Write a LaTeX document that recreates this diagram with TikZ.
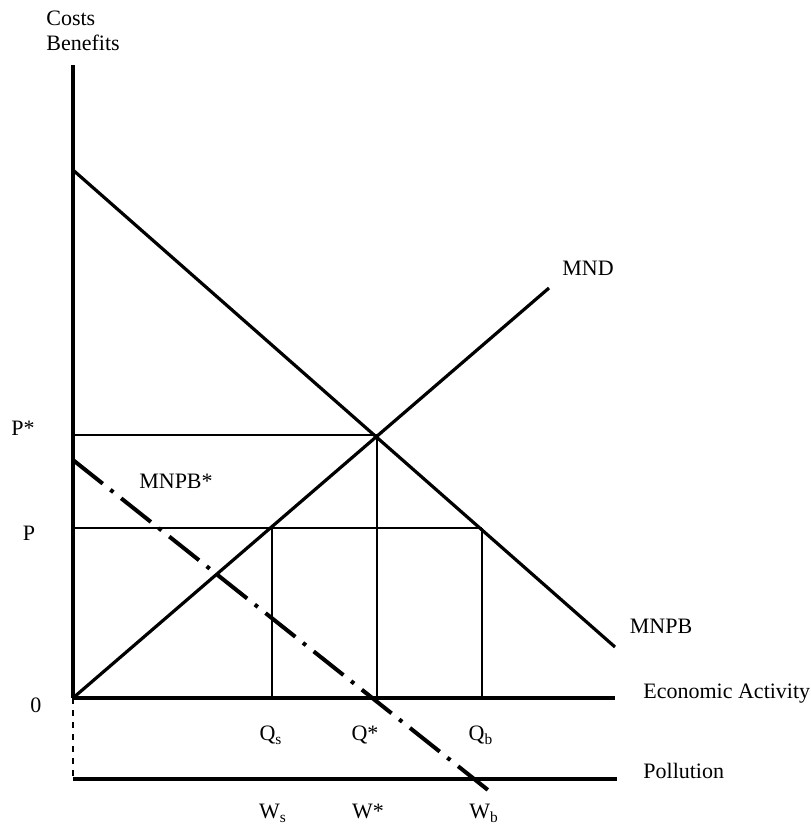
\documentclass[tikz,border=0pt]{standalone}
\usepackage{fontspec}
\setmainfont{Liberation Serif}
\usetikzlibrary{positioning}

\begin{document}
\begin{tikzpicture}[
    x=0.5pt,y=-0.5pt,
    axisline/.style={line width=2.3pt},
    curve/.style={line width=1.6pt},
    guide/.style={line width=0.7pt},
    shifted/.style={line width=2pt,dash pattern=on 19pt off 4.9pt on 1.9pt off 4.95pt},
    lbl/.style={font=\fontsize{11}{12.5}\selectfont,inner sep=0pt,text height=1.6ex,text depth=0.3ex}
]
    \useasboundingbox (0,0) rectangle (810,825);

    % Key points
    \coordinate (ytop) at (73,65);
    \coordinate (o) at (73,698);
    \coordinate (wo) at (73,779);
    \coordinate (xend) at (615,698);
    \coordinate (wend) at (617,779);
    \coordinate (bstart) at (73,170);
    \coordinate (bend) at (615,647);
    \coordinate (dend) at (549,288);
    \coordinate (eq) at (377,435);
    \coordinate (pstar) at (73,435);
    \coordinate (p) at (73,528);
    \coordinate (qs) at (272,528);
    \coordinate (qb) at (482,528);
    \coordinate (sstart) at (73,460);
    \coordinate (send) at (488,790);

    % Price and quantity guides
    \draw[guide] (pstar) -- (eq);
    \draw[guide] (eq) -- (eq |- o);
    \draw[guide] (p) -- (qb);
    \draw[guide] (qs) -- (qs |- o);
    \draw[guide] (qb) -- (qb |- o);

    % Axes
    \draw[line width=1.6pt] (ytop) -- (o);
    \draw[line width=1pt,dashed] (o) -- (wo);
    \draw[axisline] (o) -- (xend);
    \draw[axisline] (wo) -- (wend);

    % Curves
    \draw[curve] (bstart) -- (bend);
    \draw[curve] (o) -- (dend);
    \draw[shifted] (sstart) -- (send);

    % Labels
    \node[font=\fontsize{11}{12.5}\selectfont,inner sep=0pt,align=left,anchor=west] (cb) at (46,31) {Costs\\Benefits};
    \node[lbl] (lpstar) at (23,430) {P*};
    \node[lbl] (lp) at (29,535) {P};
    \node[lbl] (lo) at (36,707) {0};
    \node[lbl] (lmnpbs) at (176,483) {MNPB*};
    \node[lbl] (lmnd) at (588,270) {MND};
    \node[lbl] (lmnpb) at (661,628) {MNPB};
    \node[lbl,anchor=west] (lea) at (643,693) {Economic Activity};
    \node[lbl,anchor=west] (lpol) at (643,773) {Pollution};
    \node[lbl] (lqs) at (271,735) {Q\textsubscript{s}};
    \node[lbl] (lqst) at (365,735) {Q*};
    \node[lbl] (lqb) at (481,735) {Q\textsubscript{b}};
    \node[lbl] (lws) at (273,813) {W\textsubscript{s}};
    \node[lbl] (lwst) at (368,813) {W*};
    \node[lbl] (lwb) at (484,813) {W\textsubscript{b}};
\end{tikzpicture}
\end{document}
